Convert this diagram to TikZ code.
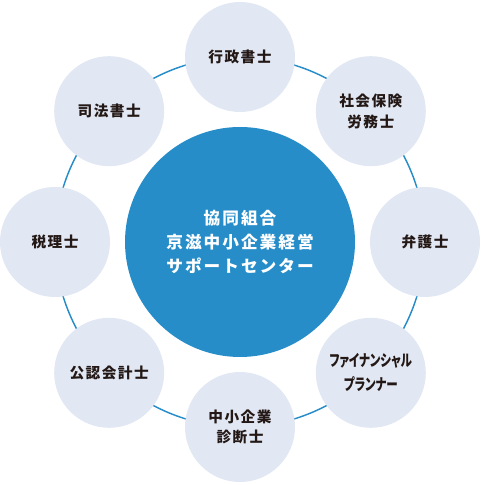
\documentclass[tikz,border=0pt]{standalone}
\usepackage{fontspec}
\setmainfont{Noto Sans CJK JP}
\usetikzlibrary{positioning}

\definecolor{hubblue}{HTML}{268DC9}
\definecolor{satfill}{HTML}{E1E8F3}
\definecolor{inkdark}{HTML}{231815}

\begin{document}
\begin{tikzpicture}[x=0.75pt,y=0.75pt,
  hub/.style={circle,fill=hubblue,minimum size=172.5pt,inner sep=0,text=white,
    font=\fontsize{12.5}{18}\selectfont\bfseries\addfontfeature{LetterSpace=12},align=center},
  sat/.style={circle,fill=satfill,minimum size=82.5pt,inner sep=0,text=inkdark,
    font=\fontsize{11}{15.5}\selectfont\bfseries\addfontfeature{LetterSpace=10},align=center},
  satthin/.style={sat,font=\fontsize{12}{18}\selectfont\bfseries\addfontfeature{FakeStretch=0.72,RawFeature=+palt}},
  ring/.style={hubblue,line width=1.1pt}]
\useasboundingbox (0,0) rectangle (480,485);
% Center
\node[hub] (ctr) at (240,243) {協同組合\\京滋中小企業経営\\サポートセンター};
% Ring
\draw[ring] (ctr.center) circle[radius=185];
% Satellites
\node[sat] (gyosei) at ([shift={(90:185)}]ctr) {行政書士};
\node[sat] (sharo) at ([shift={(45:185)}]ctr) {社会保険\\労務士};
\node[sat] (bengo) at ([shift={(0:185)}]ctr) {弁護士};
\node[satthin] (fp) at ([shift={(-45:185)}]ctr) {ファイナンシャル\\プランナー};
\node[sat] (shindan) at ([shift={(-90:185)}]ctr) {中小企業\\診断士};
\node[sat] (kaikei) at ([shift={(-135:185)}]ctr) {公認会計士};
\node[sat] (zeiri) at ([shift={(180:185)}]ctr) {税理士};
\node[sat] (shiho) at ([shift={(135:185)}]ctr) {司法書士};
\end{tikzpicture}
\end{document}
